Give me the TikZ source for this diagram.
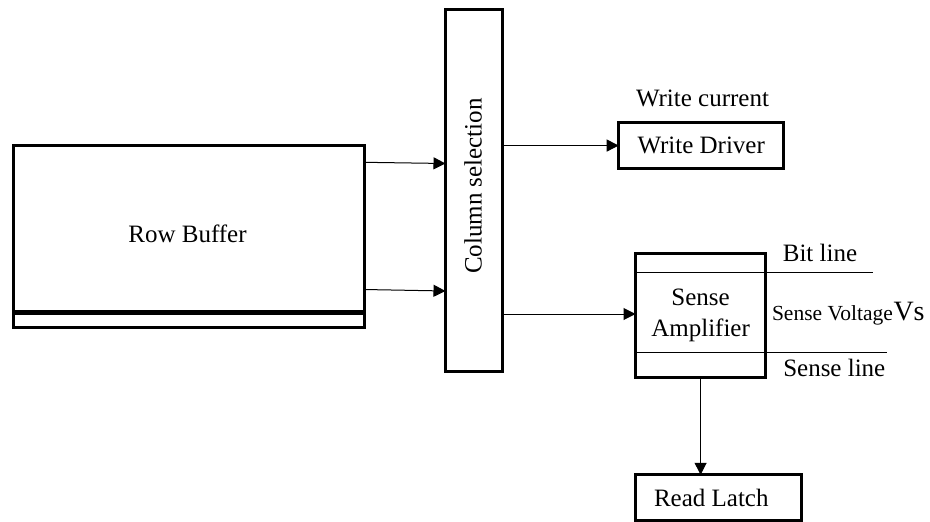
\documentclass[tikz,border=0pt]{standalone}
\usepackage{fontspec}
\setmainfont{Liberation Serif}
\usetikzlibrary{arrows.meta}
\begin{document}
\begin{tikzpicture}[x=1pt,y=-1pt,
  box/.style={draw, line width=3pt, rectangle, inner sep=0pt, outer sep=0pt},
  lbl/.style={font=\fontsize{25pt}{31pt}\selectfont, inner sep=0pt, outer sep=0pt},
  small/.style={font=\fontsize{21.5pt}{26pt}\selectfont, inner sep=0pt, outer sep=0pt},
  big/.style={font=\fontsize{28pt}{34pt}\selectfont, inner sep=0pt, outer sep=0pt},
  conn/.style={line width=1pt, -{Triangle[length=12pt,width=12pt]}},
  wire/.style={line width=1pt}]
\useasboundingbox (0,0) rectangle (930,522);

% row buffer with its lower strip
\node[box, minimum width=350.7pt, minimum height=182.8pt] (rb) at (188.65,236.4) {};
\draw[line width=5pt] (rb.west |- 0,312.3) -- (rb.east |- 0,312.3);
\node[lbl, anchor=base] (rbtext) at (187.5,242.3) {Row Buffer};

% column selection
\node[box, minimum width=56.5pt, minimum height=362.2pt] (col) at (473.75,190.6) {};
\node[lbl, rotate=90, anchor=base] (coltext) at (481.7,186) {Column selection};

% write path
\node[box, lbl, line width=3pt, minimum width=165pt, minimum height=45.5pt] (wd) at (701.2,145.55) {Write Driver};
\node[lbl, anchor=base] (wcur) at (702.5,106.7) {Write current};

% sense amplifier with bit and sense lines
\node[box, lbl, line width=3pt, align=center, minimum width=130.2pt, minimum height=123.9pt] (sa) at (700.6,315.25) {Sense\\Amplifier};
\coordinate (bitend) at (872.7,272.7);
\coordinate (senseend) at (886.7,352.3);
\draw[wire] (sa.west |- bitend) -- (bitend);
\draw[wire] (sa.west |- senseend) -- (senseend);
\node[lbl, anchor=base] (bitlbl) at (820,261.7) {Bit line};
\node[lbl, anchor=base] (senselbl) at (834.3,376.7) {Sense line};
\node[small, anchor=base west] (svlbl) at (772,320.5) {Sense Voltage};
\node[big, anchor=base west] (vslbl) at (893.5,320.5) {Vs};

% read latch
\node[box, minimum width=165.8pt, minimum height=45.7pt] (rl) at (718.4,497.65) {};
\node[lbl, anchor=base] (rltext) at (711.3,506.7) {Read Latch};

% connectors
\draw[conn] (rb.east |- 0,162.3) -- (col.west |- 0,163.5);
\draw[conn] (rb.east |- 0,289.5) -- (col.west |- 0,291);
\draw[conn] (col.east |- wd.west) -- (wd.west);
\draw[conn] (col.east |- 0,314) -- (sa.west |- 0,314);
\draw[conn] (sa.south) -- (sa.south |- rl.north);
\end{tikzpicture}
\end{document}
